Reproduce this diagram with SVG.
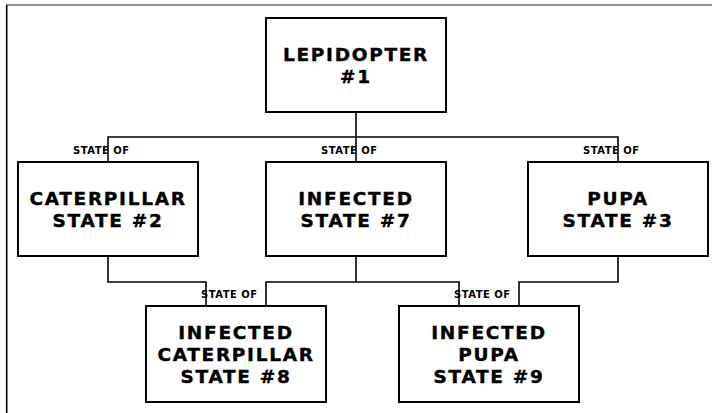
<svg xmlns="http://www.w3.org/2000/svg" width="713" height="413" viewBox="0 0 713 413">
  <style>
    .box { fill: #ffffff; stroke: #000000; stroke-width: 2; }
    .wire { fill: none; stroke: #000000; stroke-width: 1.6; stroke-linejoin: miter; }
    .name { font-family: "DejaVu Sans", "Liberation Sans", sans-serif; font-weight: bold; font-size: 18.5px; letter-spacing: 1.7px; text-anchor: middle; fill: #000000; stroke: #000000; stroke-width: 0.4px; }
    .rel { font-family: "DejaVu Sans", "Liberation Sans", sans-serif; font-weight: bold; font-size: 10px; letter-spacing: 0.5px; fill: #000000; }
  </style>

  <!-- page frame: grey top rule, black left rule -->
  <line x1="6" y1="5" x2="712" y2="5" stroke="#6e6e6e" stroke-width="1.6"/>
  <line x1="6.7" y1="5" x2="6.7" y2="413" stroke="#000000" stroke-width="1.6"/>

  <!-- connectors -->
  <g id="connectors">
    <!-- upper tree: lepidopter to its three states -->
    <path class="wire" d="M356 112 V137 M108 162 V137 H618 V162 M356 137 V162"/>
    <!-- lower tree: states feeding the infected states -->
    <path class="wire" d="M108 256 V282 H206 V306"/>
    <path class="wire" d="M356 256 V282 M266 306 V282 H459 V306"/>
    <path class="wire" d="M618 256 V282 H519 V306"/>
    <!-- relation labels -->
    <text class="rel" x="73" y="154">STATE OF</text>
    <text class="rel" x="321" y="154">STATE OF</text>
    <text class="rel" x="583" y="154">STATE OF</text>
    <text class="rel" x="201" y="298">STATE OF</text>
    <text class="rel" x="454" y="298">STATE OF</text>
  </g>

  <g id="n1">
    <rect class="box" x="266" y="18" width="180" height="94"/>
    <text class="name" x="356" y="61">LEPIDOPTER</text>
    <text class="name" x="356" y="83">#1</text>
  </g>

  <g id="n2">
    <rect class="box" x="18" y="162" width="180" height="94"/>
    <text class="name" x="108" y="205">CATERPILLAR</text>
    <text class="name" x="108" y="227">STATE #2</text>
  </g>

  <g id="n7">
    <rect class="box" x="266" y="162" width="180" height="94"/>
    <text class="name" x="356" y="205">INFECTED</text>
    <text class="name" x="356" y="227">STATE #7</text>
  </g>

  <g id="n3">
    <rect class="box" x="528" y="162" width="180" height="94"/>
    <text class="name" x="618" y="205">PUPA</text>
    <text class="name" x="618" y="227">STATE #3</text>
  </g>

  <g id="n8">
    <rect class="box" x="146" y="306" width="180" height="96"/>
    <text class="name" x="236" y="339">INFECTED</text>
    <text class="name" x="236" y="361">CATERPILLAR</text>
    <text class="name" x="236" y="383">STATE #8</text>
  </g>

  <g id="n9">
    <rect class="box" x="399" y="306" width="180" height="96"/>
    <text class="name" x="489" y="339">INFECTED</text>
    <text class="name" x="489" y="361">PUPA</text>
    <text class="name" x="489" y="383">STATE #9</text>
  </g>
</svg>
